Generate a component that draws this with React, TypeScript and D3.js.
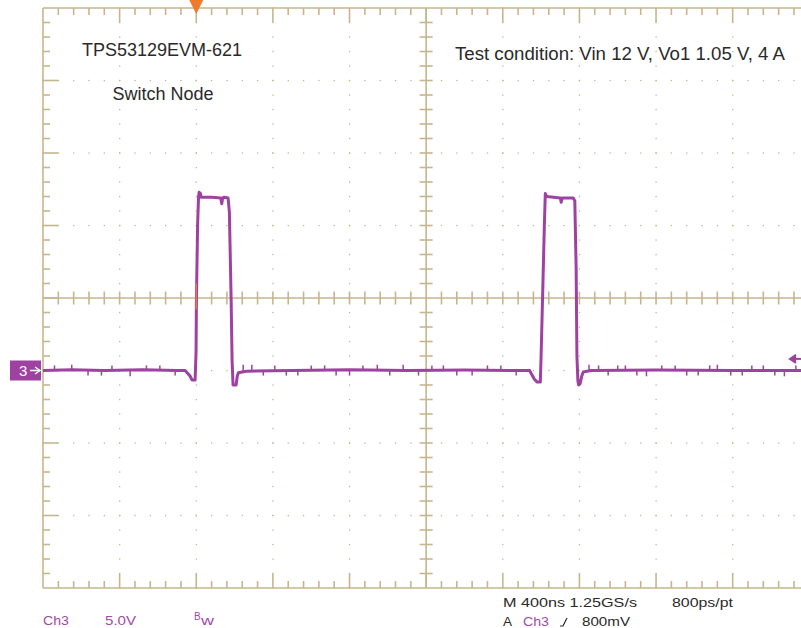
import * as d3 from 'd3';

// scope settings: 400 ns/div, 5 V/div, ch3 ground one division below center
const timeDomain: [number, number] = [0, 4000];
const voltDomain: [number, number] = [-15, 25];
const timeStep = 400;
const voltStep = 5;
const minorPerDiv = 5;
const centerTime = 2000;
const centerVolt = 5;
const triggerTime = 800;
const triggerLevel = 0.8;

// switch node trace, [ns, V]
const trace: [number, number][] = [
  [0, 0], [150, 0.05], [320, 0], [520, 0.05], [700, 0], [742, 0],
  [756, -0.2], [768, -0.4], [778, -0.65], [794, -0.66],
  [799, 1.3], [801, 5], [807, 10.0], [812, 12.0], [815, 12.3], [822, 12.2],
  [826, 11.95], [880, 11.95], [928, 11.9], [933, 11.5], [938, 11.9], [946, 11.95],
  [966, 11.9], [973, 10.9], [982, 4.9], [987, 0.7], [992, -1.0], [1008, -1.0],
  [1014, -0.4], [1020, -0.15], [1060, -0.05], [1300, 0], [1600, 0.05], [1900, 0],
  [2200, 0.03], [2500, 0], [2540, 0], [2552, -0.3], [2565, -0.6], [2580, -0.8],
  [2596, -0.8], [2600, 1.0], [2610, 6.2], [2617, 10.0], [2622, 12.2], [2630, 12.0],
  [2700, 11.9], [2705, 11.6], [2710, 11.9], [2768, 11.9], [2776, 11.7],
  [2783, 7], [2787, 1.0], [2792, -0.7], [2796, -1.0], [2804, -0.9], [2812, -0.4],
  [2820, -0.1], [2860, 0], [3200, 0.03], [3600, 0], [4000, 0],
];

// small noise ticks on the baseline and the plateaus, [ns, V]
const spikes: [number, number][] = [
  [60, 0.35], [150, 0.4], [235, -0.35], [305, -0.35], [360, 0.35], [455, -0.4],
  [540, 0.35], [610, 0.35], [690, -0.35], [1045, 0.4], [1090, 0.4], [1150, -0.35],
  [1210, 0.35], [1270, -0.35], [1330, -0.35], [1400, 0.35], [1470, 0.35], [1530, -0.35],
  [1600, -0.35], [1670, 0.35], [1745, 0.4], [1810, -0.35], [1880, 0.4], [1960, -0.35],
  [2030, 0.35], [2090, 0.35], [2160, -0.35], [2240, -0.35], [2320, 0.35], [2390, 0.35],
  [2470, -0.35], [2850, 0.4], [2900, 0.35], [2950, -0.35], [3000, 0.35], [3040, 0.35],
  [3100, -0.35], [3150, -0.4], [3230, 0.35], [3300, 0.35], [3360, -0.35], [3420, -0.35],
  [3480, 0.35], [3520, 0.4], [3590, -0.35], [3650, -0.35], [3700, 0.35], [3760, 0.35],
  [3820, -0.35], [3870, -0.4], [3930, 0.35],
];

const annotations = ['TPS53129EVM-621', 'Switch Node'];
const testCondition = 'Test condition: Vin 12 V, Vo1 1.05 V, 4 A';
const chLabels = ['Ch3', '5.0V'];
const timebaseLabels = ['M 400ns 1.25GS/s', '800ps/pt'];
const triggerLabels = ['A', 'Ch3', '800mV'];

const W = 801;
const H = 628;
const GRID = '#c6b68e';
const TRACE = '#9e42a2';
const LABEL = '#a24aa8';
const ORANGE = '#f07a2c';
const TEXT = '#2a2a2a';

export default function App() {
  const x = d3.scaleLinear().domain(timeDomain).range([43, 809.3]);
  const y = d3.scaleLinear().domain(voltDomain).range([588, 8]);

  const majorT = d3.range(timeDomain[0], timeDomain[1] + 1, timeStep);
  const majorV = d3.range(voltDomain[0], voltDomain[1] + 1, voltStep);
  const minorT = d3.range(timeDomain[0], timeDomain[1] + 1, timeStep / minorPerDiv);
  const minorV = d3.range(voltDomain[0], voltDomain[1] + 0.01, voltStep / minorPerDiv);

  const line = d3.line<[number, number]>().x(d => x(d[0])).y(d => y(d[1]));

  const x0 = x(timeDomain[0]);
  const yTop = y(voltDomain[1]);
  const yBot = y(voltDomain[0]);
  const xc = x(centerTime);
  const yc = y(centerVolt);
  const yGnd = y(0);
  const yTrig = y(triggerLevel);
  const xTrig = x(triggerTime);

  const isMajorT = (t: number) => Math.abs(t / timeStep - Math.round(t / timeStep)) < 1e-6;
  const isMajorV = (v: number) => Math.abs(v / voltStep - Math.round(v / voltStep)) < 1e-6;

  const font = '"Liberation Sans", Arial, sans-serif';

  return (
    <svg width={W} height={H} style={{ position: 'absolute', left: 0, top: 0, background: '#fff' }}
      fontFamily={font}>
      {/* dotted graticule */}
      <g fill={GRID}>
        {majorT.filter(t => t > timeDomain[0] && t !== centerTime).map(t =>
          minorV.map(v => (
            <rect key={`dv${t}-${v}`} x={x(t) - 0.6} y={y(v) - 0.6} width={1.3} height={1.3} />
          )))}
        {majorV.filter(v => v > voltDomain[0] && v < voltDomain[1] && v !== centerVolt).map(v =>
          minorT.map(t => (
            <rect key={`dh${t}-${v}`} x={x(t) - 0.6} y={y(v) - 0.6} width={1.3} height={1.3} />
          )))}
      </g>

      {/* border and center cross */}
      <g stroke={GRID} strokeWidth={1.6} fill="none">
        <line x1={x0} x2={W} y1={yTop} y2={yTop} />
        <line x1={x0} x2={W} y1={yBot} y2={yBot} />
        <line x1={x0} x2={x0} y1={yTop} y2={yBot} />
        <line x1={xc} x2={xc} y1={yTop} y2={yBot} />
        <line x1={x0} x2={W} y1={yc} y2={yc} />
        {minorT.filter(t => t > timeDomain[0]).map(t => {
          const len = isMajorT(t) ? 14.5 : 7;
          return (
            <g key={`bt${t}`}>
              <line x1={x(t)} x2={x(t)} y1={yTop} y2={yTop + len} />
              <line x1={x(t)} x2={x(t)} y1={yBot} y2={yBot - len} />
              {t !== centerTime && <line x1={x(t)} x2={x(t)} y1={yc - 6.5} y2={yc + 6.5} />}
            </g>
          );
        })}
        {minorV.filter(v => v > voltDomain[0] && v < voltDomain[1]).map(v => {
          const len = isMajorV(v) ? 15 : 7;
          return (
            <g key={`bv${v}`}>
              <line x1={x0} x2={x0 + len} y1={y(v)} y2={y(v)} />
              {v !== centerVolt && <line x1={xc - 6.5} x2={xc + 6.5} y1={y(v)} y2={y(v)} />}
            </g>
          );
        })}
      </g>

      {/* trace */}
      <g stroke={TRACE} fill="none">
        <path d={line(trace) ?? ''} strokeWidth={3} strokeLinejoin="round" />
        {spikes.map(([t, dv]) => (
          <line key={`s${t}`} x1={x(t)} x2={x(t)} y1={yGnd} y2={y(dv)} strokeWidth={1.5} />
        ))}
      </g>
      <line x1={xTrig} x2={xTrig} y1={y(4.2)} y2={y(6.0)} stroke={ORANGE} strokeWidth={1.4} />

      {/* trigger position marker */}
      <path d={`M${xTrig - 7},0 L${xTrig + 7},0 L${xTrig},${yTop + 6} Z`} fill={ORANGE} />

      {/* trigger level arrow */}
      <g stroke={TRACE} strokeWidth={2} fill="none">
        <line x1={792} x2={W} y1={yTrig} y2={yTrig} />
        <path d={`M796,${yTrig - 4} L790,${yTrig} L796,${yTrig + 4}`} fill={TRACE} />
      </g>

      {/* channel ground marker */}
      <rect x={10} y={yGnd - 10} width={31} height={20} fill={TRACE} />
      <text x={19} y={yGnd + 5.5} fontSize={15} fill="#fff">3</text>
      <g stroke="#fff" strokeWidth={1.5} fill="none">
        <line x1={30} x2={39} y1={yGnd} y2={yGnd} />
        <path d={`M35,${yGnd - 3.5} L40,${yGnd} L35,${yGnd + 3.5}`} />
      </g>

      {/* annotations */}
      <g fontSize={18} fill={TEXT} textAnchor="middle">
        <text x={162} y={56}>{annotations[0]}</text>
        <text x={163} y={100}>{annotations[1]}</text>
      </g>
      <text x={455} y={60} fontSize={18} fill={TEXT} textLength={330} lengthAdjust="spacingAndGlyphs">
        {testCondition}
      </text>

      {/* scope readouts */}
      <g fontSize={13.5}>
        <text x={43} y={625} fill={LABEL} textLength={26} lengthAdjust="spacingAndGlyphs">{chLabels[0]}</text>
        <text x={105} y={625} fill={LABEL} textLength={31} lengthAdjust="spacingAndGlyphs">{chLabels[1]}</text>
        <text x={194} y={620} fill={LABEL} fontSize={10}>B</text>
        <text x={201} y={625} fill={LABEL} textLength={13} lengthAdjust="spacingAndGlyphs">w</text>

        <text x={503} y={607} fill={TEXT} textLength={134} lengthAdjust="spacingAndGlyphs">{timebaseLabels[0]}</text>
        <text x={672} y={607} fill={TEXT} textLength={61} lengthAdjust="spacingAndGlyphs">{timebaseLabels[1]}</text>
        <text x={503} y={626} fill={TEXT}>{triggerLabels[0]}</text>
        <text x={523} y={626} fill={LABEL} textLength={26} lengthAdjust="spacingAndGlyphs">{triggerLabels[1]}</text>
        <path d="M560,626 L563,626 L567,618" stroke={TEXT} strokeWidth={1.2} fill="none" />
        <text x={582} y={626} fill={TEXT} textLength={48} lengthAdjust="spacingAndGlyphs">{triggerLabels[2]}</text>
      </g>
    </svg>
  );
}
